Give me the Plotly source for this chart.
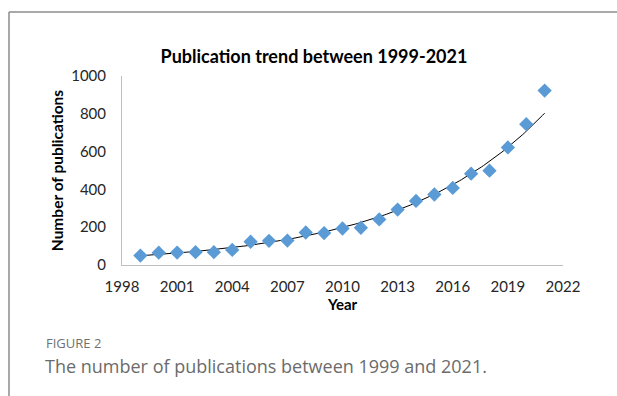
import numpy as np
import plotly.graph_objects as go

years = [1999, 2000, 2001, 2002, 2003, 2004, 2005, 2006, 2007, 2008, 2009,
         2010, 2011, 2012, 2013, 2014, 2015, 2016, 2017, 2018, 2019, 2020, 2021]
pubs = [50, 65, 66, 68, 68, 80, 123, 128, 129, 172, 169,
        193, 197, 241, 293, 339, 373, 408, 483, 499, 622, 745, 923]
x_ticks = [1998, 2001, 2004, 2007, 2010, 2013, 2016, 2019, 2022]
y_ticks = [0, 200, 400, 600, 800, 1000]

# Exponential trendline (least squares on ln y, as in Excel)
b, ln_a = np.polyfit(np.array(years, float), np.log(np.array(pubs, float)), 1)
tx = np.linspace(years[0], years[-1], 200)
ty = np.exp(ln_a + b * tx)

fig = go.Figure()
fig.add_trace(go.Scatter(x=tx, y=ty, mode="lines",
                         line=dict(color="black", width=1), hoverinfo="skip"))
fig.add_trace(go.Scatter(x=years, y=pubs, mode="markers",
                         marker=dict(symbol="diamond", size=11, color="#5B9BD5",
                                     line=dict(width=0))))

W, H = 617, 396
L, R, T, B = 122, 54, 76, 131
pw, ph = W - L - R, H - T - B

def px(xp):
    return (xp - L) / pw

def py(yp):
    return (H - B - yp) / ph

fig.update_layout(
    width=W, height=H,
    margin=dict(l=L, r=R, t=T, b=B),
    paper_bgcolor="white", plot_bgcolor="white",
    showlegend=False,
    font=dict(family="Lato, sans-serif", color="#262626", size=15),
    title=dict(text="<b>Publication trend between 1999-2021</b>",
               xref="container", yref="container",
               x=314 / W, xanchor="center", y=1 - 57 / H, yanchor="middle",
               font=dict(size=18, color="#000000")),
    xaxis=dict(range=[1998, 2022], tickvals=x_ticks, showgrid=False, zeroline=False,
               showline=True, linecolor="#BFBFBF", linewidth=1,
               ticks="outside", ticklen=8, tickcolor="rgba(0,0,0,0)",
               tickfont=dict(size=15, color="#262626"),
               title=dict(text="<b>Year</b>", font=dict(size=15, color="#000000"), standoff=2)),
    yaxis=dict(range=[0, 1000], tickvals=y_ticks, showgrid=False, zeroline=False,
               showline=True, linecolor="#BFBFBF", linewidth=1,
               ticks="outside", ticklen=12, tickcolor="rgba(0,0,0,0)",
               tickfont=dict(size=15, color="#262626"),
               title=dict(text="<b>Number of publications</b>", font=dict(size=15.5, color="#000000"),
                          standoff=3)),
)

# Frame lines (top and left)
fig.add_shape(type="line", xref="paper", yref="paper",
              x0=px(9), x1=px(617), y0=py(12), y1=py(12),
              line=dict(color="#8C8C8C", width=1.5))
fig.add_shape(type="line", xref="paper", yref="paper",
              x0=px(9), x1=px(9), y0=py(12), y1=py(396),
              line=dict(color="#8C8C8C", width=1.5))

fig.add_annotation(text="FIGURE 2", xref="paper", yref="paper",
                   x=px(44), y=py(343), xanchor="left", yanchor="middle", showarrow=False,
                   font=dict(family="Open Sans, sans-serif", size=13, color="#707070"))
fig.add_annotation(text="The number of publications between 1999 and 2021.",
                   xref="paper", yref="paper",
                   x=px(43), y=py(366), xanchor="left", yanchor="middle", showarrow=False,
                   font=dict(family="Open Sans, sans-serif", size=18, color="#6b6b6b"))

fig.write_html("out.html")
